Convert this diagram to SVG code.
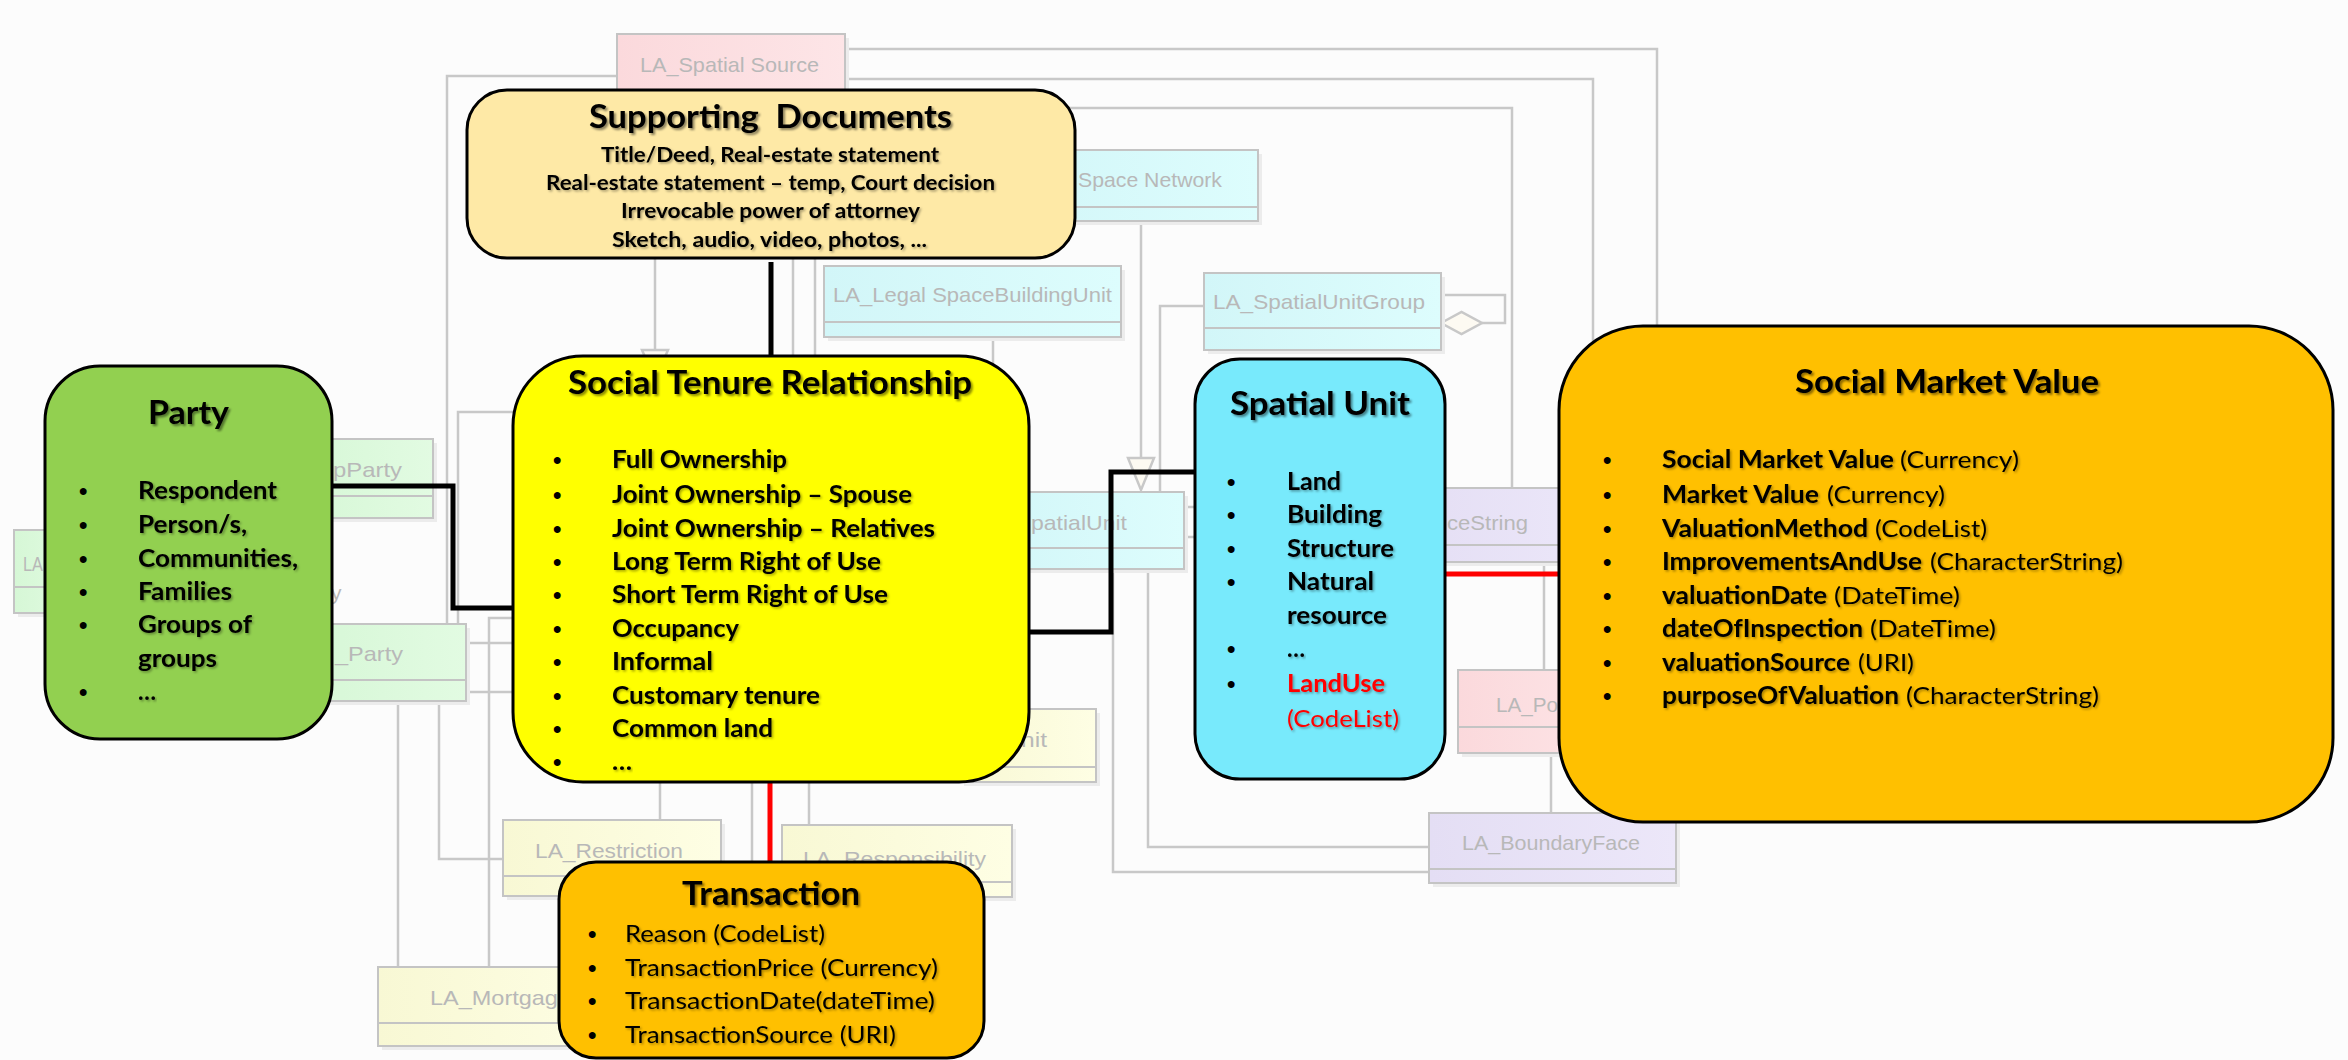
<svg xmlns="http://www.w3.org/2000/svg" width="2348" height="1060" viewBox="0 0 2348 1060">
<defs>
<style>
.bg{fill:#fcfcfc}
.sh{fill:#ececec}
.b{stroke:#c4c4c4;stroke-width:2}
.dv{stroke:#c4c4c4;stroke-width:2}
.gl{fill:none;stroke:#c8c8c8;stroke-width:2.5}
.ut{font-family:"Liberation Sans",Arial,sans-serif;font-size:21px;fill:#b8b8b8}
.node{stroke:#000;stroke-width:3}
.t{font-family:Lato,"Open Sans",sans-serif;font-weight:bold;fill:#000;filter:url(#ts)}
.title{font-size:32px;filter:url(#tts)}
.it{font-size:24px}
.sd{font-size:21px}
.reg{font-weight:normal}
.red{fill:#ff0000}
.bul{font-family:"Liberation Sans",Arial,sans-serif;font-size:24px;font-weight:bold;fill:#000}
.blk{fill:none;stroke:#000;stroke-width:5}
.rl{fill:none;stroke:#ff0000;stroke-width:5}
</style>
<filter id="ts" x="-5%" y="-30%" width="110%" height="160%">
<feDropShadow dx="1.5" dy="1.5" stdDeviation="1" flood-color="#000" flood-opacity="0.35"/>
</filter>
<filter id="tts" x="-5%" y="-30%" width="110%" height="160%">
<feDropShadow dx="2" dy="2" stdDeviation="1.3" flood-color="#000" flood-opacity="0.45"/>
</filter>
<linearGradient id="gPink" x1="0" x2="1" y1="0" y2="0"><stop offset="0" stop-color="#fbd9dc"/><stop offset="1" stop-color="#fde5e7"/></linearGradient>
<linearGradient id="gCyan" x1="0" x2="1" y1="0" y2="0"><stop offset="0" stop-color="#d2f6f8"/><stop offset="1" stop-color="#ddfdfd"/></linearGradient>
<linearGradient id="gGreen" x1="0" x2="1" y1="0" y2="0"><stop offset="0" stop-color="#d6f7d6"/><stop offset="1" stop-color="#e2fbe2"/></linearGradient>
<linearGradient id="gYellow" x1="0" x2="1" y1="0" y2="0"><stop offset="0" stop-color="#f8f8d4"/><stop offset="1" stop-color="#fefee4"/></linearGradient>
<linearGradient id="gPurple" x1="0" x2="1" y1="0" y2="0"><stop offset="0" stop-color="#e4def4"/><stop offset="1" stop-color="#ece7f9"/></linearGradient>
</defs>
<rect class="bg" x="0" y="0" width="2348" height="1060"/>

<g id="uml-connectors">
<polyline class="gl" points="617,76 447,76 447,624"/>
<polyline class="gl" points="845,49 1657,49 1657,340"/>
<polyline class="gl" points="845,79 1593,79 1593,380"/>
<polyline class="gl" points="1000,108 1512,108 1512,488"/>
<line class="gl" x1="655" y1="258" x2="655" y2="350"/>
<polygon class="gl" points="642,350 668,350 655,380" style="fill:#fdfaf2"/>
<line class="gl" x1="793" y1="258" x2="793" y2="370"/>
<line class="gl" x1="815" y1="258" x2="815" y2="370"/>
<line class="gl" x1="993" y1="337" x2="993" y2="375"/>
<line class="gl" x1="1141" y1="221" x2="1141" y2="458"/>
<polygon class="gl" points="1128,458 1154,458 1141,490" style="fill:#fdfaf2"/>
<polyline class="gl" points="1204,306 1160,306 1160,492"/>
<polyline class="gl" points="1441,295 1505,295 1505,323 1482,323"/>
<polygon class="gl" points="1441,323 1461.5,312 1482,323 1461.5,334" style="fill:#fdfaf2"/>
<line class="gl" x1="1184" y1="507" x2="1196" y2="507"/>
<line class="gl" x1="1184" y1="537" x2="1196" y2="537"/>
<polyline class="gl" points="1113,569 1113,872 1429,872"/>
<polyline class="gl" points="1148,569 1148,847 1429,847"/>
<line class="gl" x1="1544" y1="562" x2="1544" y2="670"/>
<line class="gl" x1="1551" y1="753" x2="1551" y2="813"/>
<polyline class="gl" points="458,624 458,412 530,412"/>
<line class="gl" x1="466" y1="643" x2="530" y2="643"/>
<line class="gl" x1="466" y1="692" x2="530" y2="692"/>
<polyline class="gl" points="489,967 489,618 530,618"/>
<line class="gl" x1="398" y1="701" x2="398" y2="967"/>
<polyline class="gl" points="439,701 439,859 503,859"/>
<line class="gl" x1="660" y1="770" x2="660" y2="820"/>
<line class="gl" x1="752" y1="770" x2="752" y2="870"/>
<line class="gl" x1="809" y1="770" x2="809" y2="825"/>
</g>

<g id="la-spatial-source">
<rect class="sh" x="621" y="38" width="228" height="80"/>
<rect class="b" x="617" y="34" width="228" height="80" fill="url(#gPink)"/>
<text class="ut" x="640" y="72" textLength="179" lengthAdjust="spacingAndGlyphs">LA_Spatial Source</text>
</g>
<g id="la-legal-space-network">
<rect class="sh" x="1004" y="154" width="258" height="71"/>
<rect class="b" x="1000" y="150" width="258" height="71" fill="url(#gCyan)"/>
<line class="dv" x1="1000" y1="207" x2="1258" y2="207"/>
<text class="ut" x="1078" y="187" textLength="144" lengthAdjust="spacingAndGlyphs">Space Network</text>
</g>
<g id="la-legal-space-building-unit">
<rect class="sh" x="828" y="270" width="297" height="71"/>
<rect class="b" x="824" y="266" width="297" height="71" fill="url(#gCyan)"/>
<line class="dv" x1="824" y1="322" x2="1121" y2="322"/>
<text class="ut" x="833" y="302" textLength="279" lengthAdjust="spacingAndGlyphs">LA_Legal SpaceBuildingUnit</text>
</g>
<g id="la-spatial-unit-group">
<rect class="sh" x="1208" y="277" width="237" height="77"/>
<rect class="b" x="1204" y="273" width="237" height="77" fill="url(#gCyan)"/>
<line class="dv" x1="1204" y1="328" x2="1441" y2="328"/>
<text class="ut" x="1213" y="309" textLength="212" lengthAdjust="spacingAndGlyphs">LA_SpatialUnitGroup</text>
</g>
<g id="la-spatial-unit">
<rect class="sh" x="984" y="496" width="204" height="77"/>
<rect class="b" x="980" y="492" width="204" height="77" fill="url(#gCyan)"/>
<line class="dv" x1="980" y1="548" x2="1184" y2="548"/>
<text class="ut" x="1031" y="530" textLength="96" lengthAdjust="spacingAndGlyphs">patialUnit</text>
</g>
<g id="la-boundary-face-string">
<rect class="sh" x="1404" y="492" width="200" height="74"/>
<rect class="b" x="1400" y="488" width="200" height="74" fill="url(#gPurple)"/>
<line class="dv" x1="1400" y1="545" x2="1600" y2="545"/>
<text class="ut" x="1447" y="530" textLength="81" lengthAdjust="spacingAndGlyphs">ceString</text>
</g>
<g id="la-point">
<rect class="sh" x="1462" y="674" width="160" height="83"/>
<rect class="b" x="1458" y="670" width="160" height="83" fill="url(#gPink)"/>
<line class="dv" x1="1458" y1="727" x2="1618" y2="727"/>
<text class="ut" x="1496" y="712" textLength="62" lengthAdjust="spacingAndGlyphs">LA_Po</text>
</g>
<g id="la-boundary-face">
<rect class="sh" x="1433" y="817" width="247" height="70"/>
<rect class="b" x="1429" y="813" width="247" height="70" fill="url(#gPurple)"/>
<line class="dv" x1="1429" y1="869" x2="1676" y2="869"/>
<text class="ut" x="1462" y="850" textLength="178" lengthAdjust="spacingAndGlyphs">LA_BoundaryFace</text>
</g>
<g id="la-group-party">
<rect class="sh" x="304" y="443" width="133" height="79"/>
<rect class="b" x="300" y="439" width="133" height="79" fill="url(#gGreen)"/>
<line class="dv" x1="300" y1="496" x2="433" y2="496"/>
<text class="ut" x="333" y="477" textLength="69" lengthAdjust="spacingAndGlyphs">pParty</text>
</g>
<g id="la-party">
<rect class="sh" x="304" y="628" width="166" height="77"/>
<rect class="b" x="300" y="624" width="166" height="77" fill="url(#gGreen)"/>
<line class="dv" x1="300" y1="680" x2="466" y2="680"/>
<text class="ut" x="335" y="661" textLength="68" lengthAdjust="spacingAndGlyphs">_Party</text>
<text class="ut" x="331" y="600">y</text>
</g>
<g id="la-party-member">
<rect class="sh" x="18" y="534" width="66" height="83"/>
<rect class="b" x="14" y="530" width="66" height="83" fill="url(#gGreen)"/>
<line class="dv" x1="14" y1="587" x2="80" y2="587"/>
<text class="ut" x="23" y="571" textLength="20" lengthAdjust="spacingAndGlyphs">LA</text>
</g>
<g id="la-restriction">
<rect class="sh" x="507" y="824" width="218" height="76"/>
<rect class="b" x="503" y="820" width="218" height="76" fill="url(#gYellow)"/>
<line class="dv" x1="503" y1="876" x2="721" y2="876"/>
<text class="ut" x="535" y="858" textLength="148" lengthAdjust="spacingAndGlyphs">LA_Restriction</text>
</g>
<g id="la-responsibility">
<rect class="sh" x="786" y="829" width="230" height="72"/>
<rect class="b" x="782" y="825" width="230" height="72" fill="url(#gYellow)"/>
<line class="dv" x1="782" y1="882" x2="1012" y2="882"/>
<text class="ut" x="803" y="866" textLength="183" lengthAdjust="spacingAndGlyphs">LA_Responsibility</text>
</g>
<g id="la-mortgage">
<rect class="sh" x="382" y="971" width="240" height="79"/>
<rect class="b" x="378" y="967" width="240" height="79" fill="url(#gYellow)"/>
<line class="dv" x1="378" y1="1023" x2="618" y2="1023"/>
<text class="ut" x="430" y="1005" textLength="141" lengthAdjust="spacingAndGlyphs">LA_Mortgage</text>
</g>
<g id="la-ba-unit">
<rect class="sh" x="964" y="713" width="136" height="73"/>
<rect class="b" x="960" y="709" width="136" height="73" fill="url(#gYellow)"/>
<line class="dv" x1="960" y1="767" x2="1096" y2="767"/>
<text class="ut" x="1021" y="747" textLength="26" lengthAdjust="spacingAndGlyphs">nit</text>
</g>

<g id="connectors">
<line class="blk" x1="771" y1="262" x2="771" y2="357"/>
<polyline class="blk" points="332,486 453,486 453,608 514,608"/>
<polyline class="blk" points="1028,632 1111,632 1111,472 1196,472"/>
<line class="rl" x1="770" y1="782" x2="770" y2="862"/>
<line class="rl" x1="1445" y1="574" x2="1559" y2="574"/>
</g>

<g id="supporting-documents">
<rect class="node" x="467" y="90" width="608" height="168" rx="40" fill="#fee9a6"/>
<text class="t title" x="589" y="128" textLength="363" lengthAdjust="spacingAndGlyphs" xml:space="preserve">Supporting  Documents</text>
<text class="t sd" x="601" y="162" textLength="338" lengthAdjust="spacingAndGlyphs">Title/Deed, Real-estate statement</text>
<text class="t sd" x="546" y="190" textLength="449" lengthAdjust="spacingAndGlyphs">Real-estate statement – temp, Court decision</text>
<text class="t sd" x="621" y="218" textLength="299" lengthAdjust="spacingAndGlyphs">Irrevocable power of attorney</text>
<text class="t sd" x="612" y="247" textLength="315" lengthAdjust="spacingAndGlyphs">Sketch, audio, video, photos, ...</text>
</g>

<g id="party">
<rect class="node" x="45" y="366" width="287" height="373" rx="55" fill="#92d050"/>
<text class="t title" x="148" y="424" textLength="81" lengthAdjust="spacingAndGlyphs">Party</text>
<text class="bul" x="79" y="499">•</text>
<text class="bul" x="79" y="533">•</text>
<text class="bul" x="79" y="567">•</text>
<text class="bul" x="79" y="600">•</text>
<text class="bul" x="79" y="633">•</text>
<text class="bul" x="79" y="700">•</text>
<text class="t it" x="138" y="499" textLength="139" lengthAdjust="spacingAndGlyphs">Respondent</text>
<text class="t it" x="138" y="533" textLength="109" lengthAdjust="spacingAndGlyphs">Person/s,</text>
<text class="t it" x="138" y="567" textLength="160" lengthAdjust="spacingAndGlyphs">Communities,</text>
<text class="t it" x="138" y="600" textLength="94" lengthAdjust="spacingAndGlyphs">Families</text>
<text class="t it" x="138" y="633" textLength="114" lengthAdjust="spacingAndGlyphs">Groups of</text>
<text class="t it" x="138" y="667" textLength="79" lengthAdjust="spacingAndGlyphs">groups</text>
<text class="t it" x="138" y="700" textLength="18" lengthAdjust="spacingAndGlyphs">…</text>
</g>

<g id="social-tenure-relationship">
<rect class="node" x="513" y="356" width="516" height="426" rx="70" fill="#ffff00"/>
<text class="t title" x="568" y="394" textLength="404" lengthAdjust="spacingAndGlyphs">Social Tenure Relationship</text>
<text class="bul" x="553" y="468">•</text>
<text class="bul" x="553" y="503">•</text>
<text class="bul" x="553" y="537">•</text>
<text class="bul" x="553" y="570">•</text>
<text class="bul" x="553" y="603">•</text>
<text class="bul" x="553" y="637">•</text>
<text class="bul" x="553" y="670">•</text>
<text class="bul" x="553" y="704">•</text>
<text class="bul" x="553" y="737">•</text>
<text class="bul" x="553" y="770">•</text>
<text class="t it" x="612" y="468" textLength="175" lengthAdjust="spacingAndGlyphs">Full Ownership</text>
<text class="t it" x="612" y="503" textLength="300" lengthAdjust="spacingAndGlyphs">Joint Ownership – Spouse</text>
<text class="t it" x="612" y="537" textLength="323" lengthAdjust="spacingAndGlyphs">Joint Ownership – Relatives</text>
<text class="t it" x="612" y="570" textLength="269" lengthAdjust="spacingAndGlyphs">Long Term Right of Use</text>
<text class="t it" x="612" y="603" textLength="276" lengthAdjust="spacingAndGlyphs">Short Term Right of Use</text>
<text class="t it" x="612" y="637" textLength="127" lengthAdjust="spacingAndGlyphs">Occupancy</text>
<text class="t it" x="612" y="670" textLength="101" lengthAdjust="spacingAndGlyphs">Informal</text>
<text class="t it" x="612" y="704" textLength="208" lengthAdjust="spacingAndGlyphs">Customary tenure</text>
<text class="t it" x="612" y="737" textLength="161" lengthAdjust="spacingAndGlyphs">Common land</text>
<text class="t it" x="612" y="770" textLength="20" lengthAdjust="spacingAndGlyphs">…</text>
</g>

<g id="spatial-unit">
<rect class="node" x="1195" y="359" width="250" height="420" rx="45" fill="#78eafc"/>
<text class="t title" x="1230" y="415" textLength="180" lengthAdjust="spacingAndGlyphs">Spatial Unit</text>
<text class="bul" x="1227" y="490">•</text>
<text class="bul" x="1227" y="523">•</text>
<text class="bul" x="1227" y="557">•</text>
<text class="bul" x="1227" y="590">•</text>
<text class="bul" x="1227" y="657">•</text>
<text class="bul red" x="1227" y="692">•</text>
<text class="t it" x="1287" y="490" textLength="54" lengthAdjust="spacingAndGlyphs">Land</text>
<text class="t it" x="1287" y="523" textLength="95" lengthAdjust="spacingAndGlyphs">Building</text>
<text class="t it" x="1287" y="557" textLength="107" lengthAdjust="spacingAndGlyphs">Structure</text>
<text class="t it" x="1287" y="590" textLength="87" lengthAdjust="spacingAndGlyphs">Natural</text>
<text class="t it" x="1287" y="624" textLength="100" lengthAdjust="spacingAndGlyphs">resource</text>
<text class="t it" x="1287" y="657" textLength="18" lengthAdjust="spacingAndGlyphs">…</text>
<text class="t it red" x="1287" y="692" textLength="98" lengthAdjust="spacingAndGlyphs">LandUse</text>
<text class="t it reg red" x="1287" y="727" textLength="112" lengthAdjust="spacingAndGlyphs">(CodeList)</text>
</g>

<g id="social-market-value">
<rect class="node" x="1559" y="326" width="774" height="496" rx="84" fill="#ffc000"/>
<text class="t title" x="1795" y="393" textLength="304" lengthAdjust="spacingAndGlyphs">Social Market Value</text>
<text class="bul" x="1603" y="468">•</text>
<text class="bul" x="1603" y="503">•</text>
<text class="bul" x="1603" y="537">•</text>
<text class="bul" x="1603" y="570">•</text>
<text class="bul" x="1603" y="604">•</text>
<text class="bul" x="1603" y="637">•</text>
<text class="bul" x="1603" y="671">•</text>
<text class="bul" x="1603" y="704">•</text>
<text class="t it" x="1662" y="468" textLength="232" lengthAdjust="spacingAndGlyphs">Social Market Value</text>
<text class="t it reg" x="1900" y="468" textLength="119" lengthAdjust="spacingAndGlyphs">(Currency)</text>
<text class="t it" x="1662" y="503" textLength="157" lengthAdjust="spacingAndGlyphs">Market Value</text>
<text class="t it reg" x="1827" y="503" textLength="118" lengthAdjust="spacingAndGlyphs">(Currency)</text>
<text class="t it" x="1662" y="537" textLength="206" lengthAdjust="spacingAndGlyphs">ValuationMethod</text>
<text class="t it reg" x="1875" y="537" textLength="112" lengthAdjust="spacingAndGlyphs">(CodeList)</text>
<text class="t it" x="1662" y="570" textLength="260" lengthAdjust="spacingAndGlyphs">ImprovementsAndUse</text>
<text class="t it reg" x="1930" y="570" textLength="193" lengthAdjust="spacingAndGlyphs">(CharacterString)</text>
<text class="t it" x="1662" y="604" textLength="165" lengthAdjust="spacingAndGlyphs">valuationDate</text>
<text class="t it reg" x="1834" y="604" textLength="126" lengthAdjust="spacingAndGlyphs">(DateTime)</text>
<text class="t it" x="1662" y="637" textLength="201" lengthAdjust="spacingAndGlyphs">dateOfInspection</text>
<text class="t it reg" x="1870" y="637" textLength="126" lengthAdjust="spacingAndGlyphs">(DateTime)</text>
<text class="t it" x="1662" y="671" textLength="188" lengthAdjust="spacingAndGlyphs">valuationSource</text>
<text class="t it reg" x="1858" y="671" textLength="56" lengthAdjust="spacingAndGlyphs">(URI)</text>
<text class="t it" x="1662" y="704" textLength="237" lengthAdjust="spacingAndGlyphs">purposeOfValuation</text>
<text class="t it reg" x="1906" y="704" textLength="193" lengthAdjust="spacingAndGlyphs">(CharacterString)</text>
</g>

<g id="transaction">
<rect class="node" x="559" y="862" width="425" height="196" rx="37" fill="#ffc000"/>
<text class="t title" x="682" y="905" textLength="178" lengthAdjust="spacingAndGlyphs">Transaction</text>
<text class="bul" x="588" y="942">•</text>
<text class="bul" x="588" y="976">•</text>
<text class="bul" x="588" y="1009">•</text>
<text class="bul" x="588" y="1043">•</text>
<text class="t it reg" x="625" y="942" textLength="200" lengthAdjust="spacingAndGlyphs">Reason (CodeList)</text>
<text class="t it reg" x="625" y="976" textLength="313" lengthAdjust="spacingAndGlyphs">TransactionPrice (Currency)</text>
<text class="t it reg" x="625" y="1009" textLength="310" lengthAdjust="spacingAndGlyphs">TransactionDate(dateTime)</text>
<text class="t it reg" x="625" y="1043" textLength="271" lengthAdjust="spacingAndGlyphs">TransactionSource (URI)</text>
</g>
</svg>
